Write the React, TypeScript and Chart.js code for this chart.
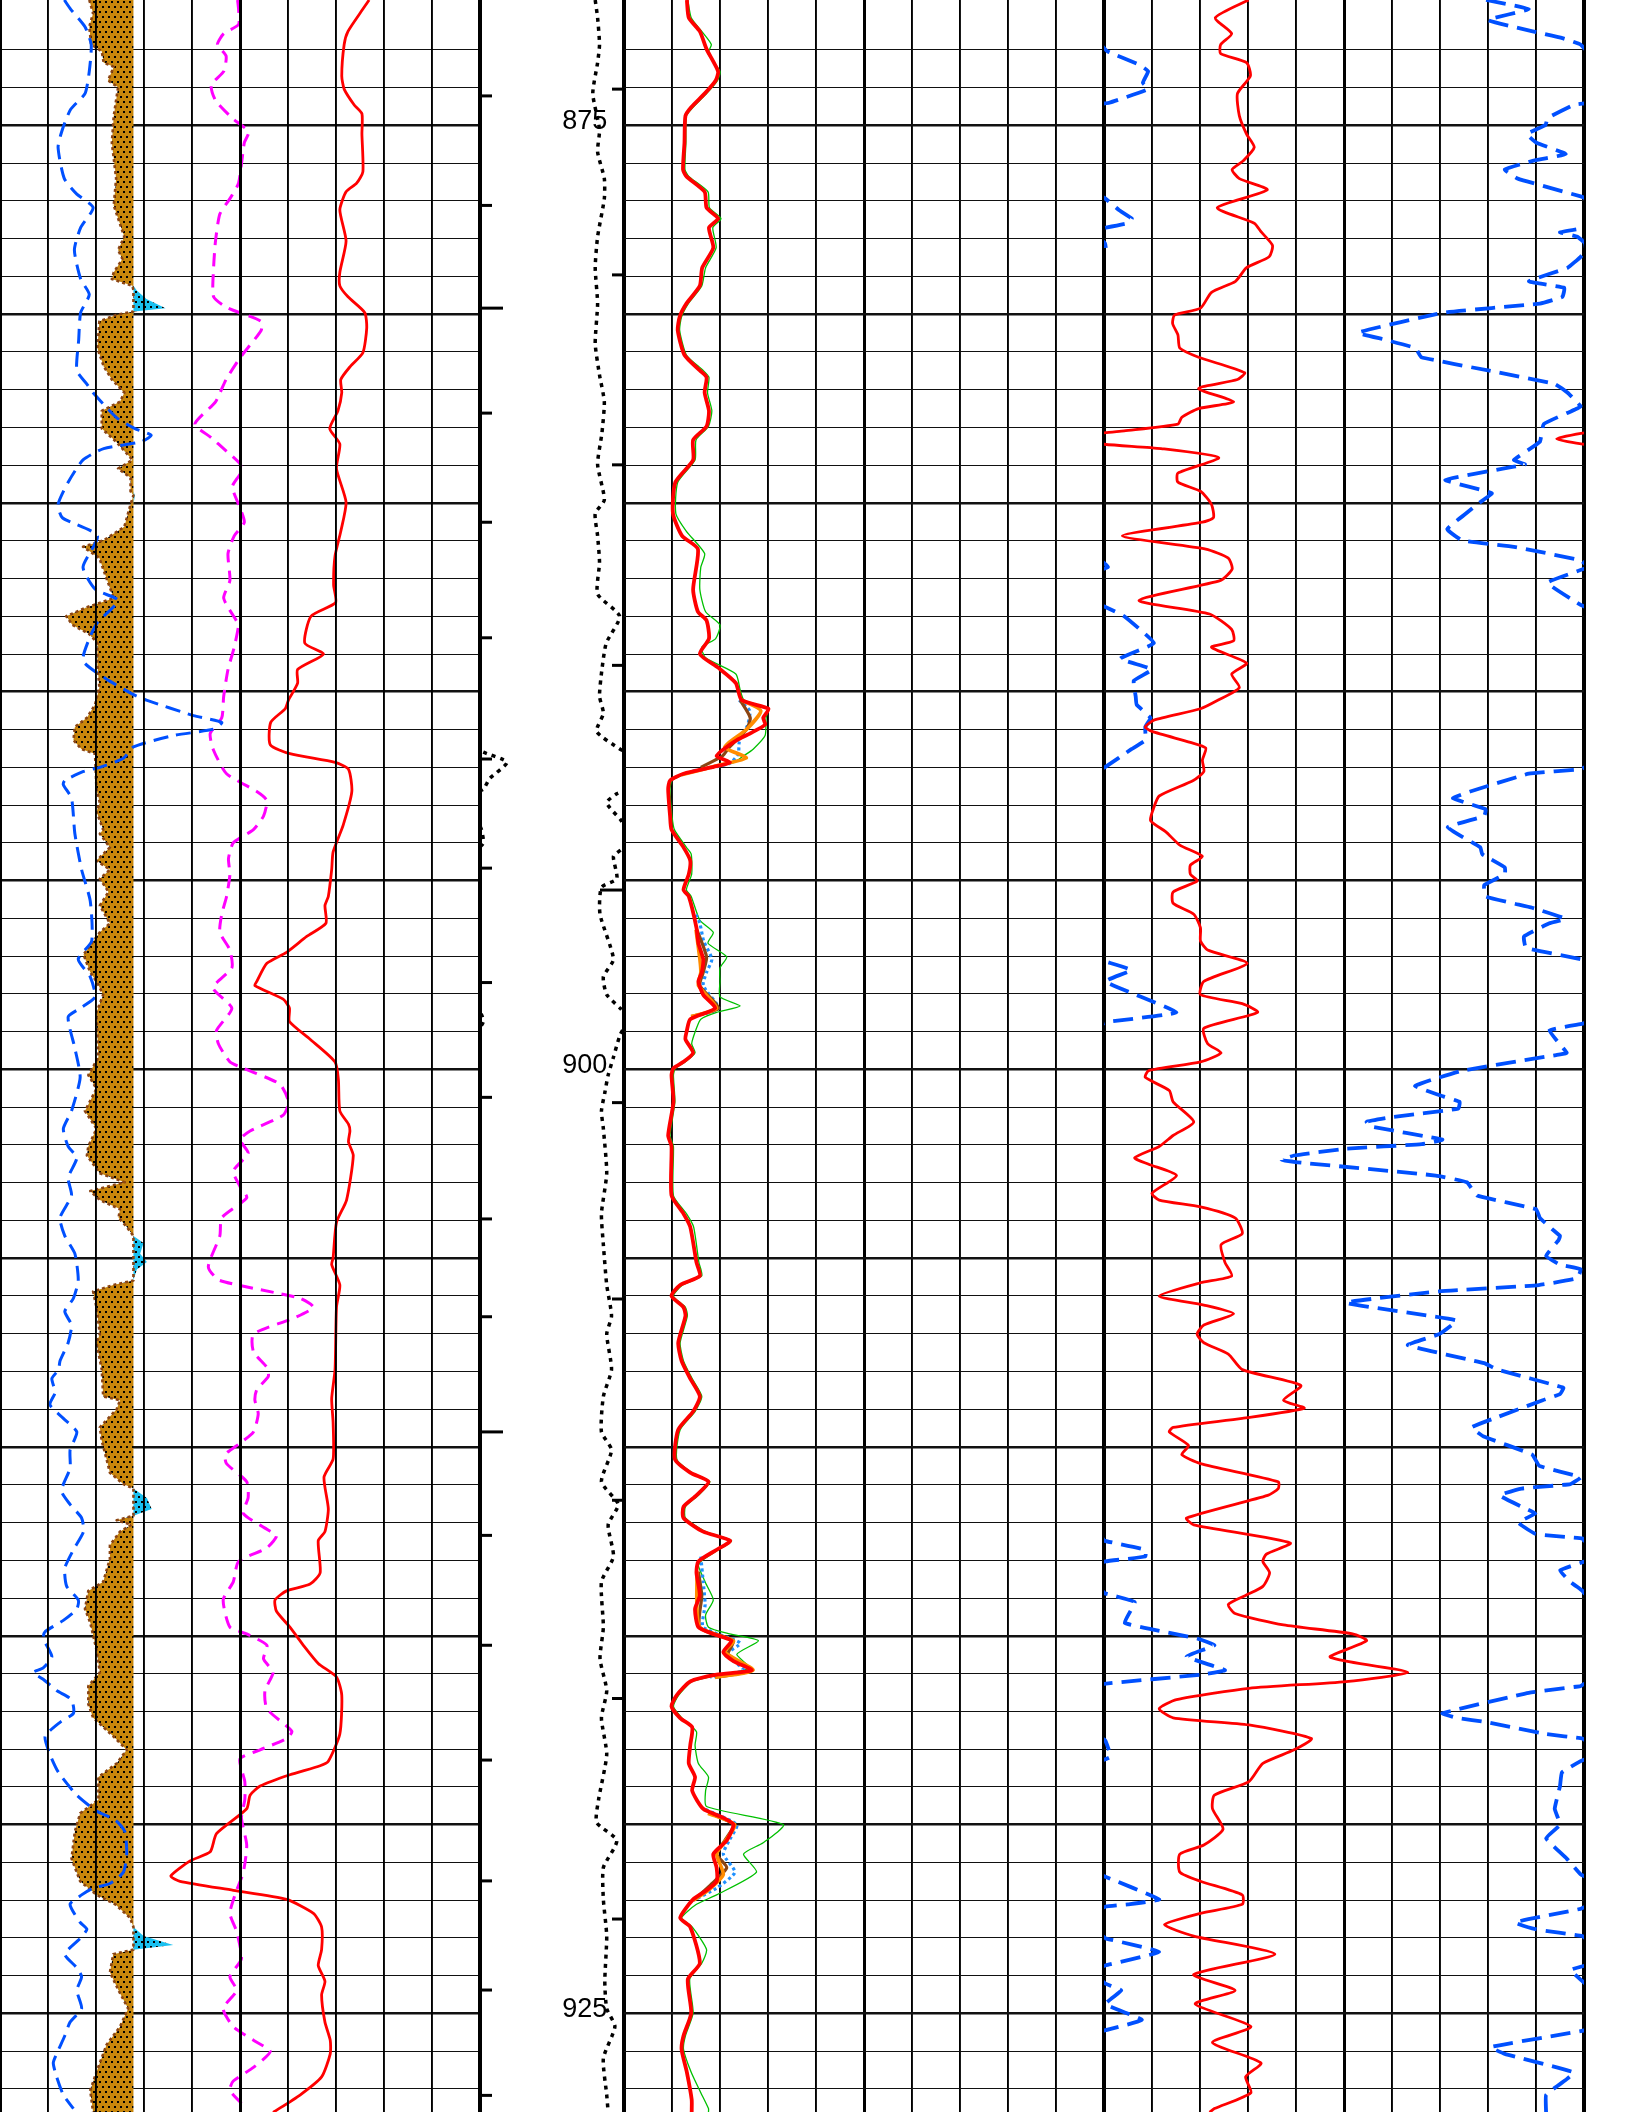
import React, { useEffect, useRef } from 'react';
import { Chart, registerables } from 'chart.js';

Chart.register(...registerables);

// ---------- depth axis ----------
const DEPTH_MIN = 871.68;
const DEPTH_MAX = 927.61;
const DEPTH_LABELS = [875, 900, 925];
const GR_BASELINE = 2.78;

// ---------- left track (10 divisions) ----------
const LT_RED: [number, number][] = [[871.68,7.69],[871.92,7.56],[872.51,7.25],[872.86,7.17],[873.69,7.12],[874.04,7.17],[874.46,7.38],[874.69,7.54],[875.23,7.54],[876.23,7.56],[876.53,7.43],[876.76,7.21],[877.24,7.08],[878.06,7.21],[878.89,7.08],[879.25,7.08],[879.54,7.25],[879.96,7.60],[880.37,7.64],[881.02,7.56],[881.38,7.30],[881.73,7.10],[882.08,7.12],[882.56,7.04],[883.03,6.87],[883.44,7.08],[884.09,7.01],[884.98,7.21],[885.75,7.10],[886.40,6.98],[887.17,6.95],[887.64,6.99],[888.00,6.48],[888.71,6.35],[889.00,6.74],[889.41,6.20],[889.77,6.20],[890.22,6.01],[890.45,5.94],[890.81,5.64],[891.40,5.63],[891.64,6.04],[891.87,6.98],[892.05,7.26],[892.64,7.33],[893.53,7.15],[894.24,6.94],[894.71,6.91],[895.42,6.84],[895.66,6.77],[896.13,6.79],[896.48,6.39],[896.90,5.97],[897.19,5.56],[897.67,5.35],[897.78,5.31],[898.14,5.90],[898.38,6.03],[898.73,6.03],[899.20,6.46],[899.80,6.98],[900.27,7.05],[901.10,7.08],[901.45,7.26],[901.63,7.29],[901.92,7.26],[902.28,7.36],[903.46,7.22],[904.05,7.01],[904.99,6.94],[905.17,6.91],[905.71,7.08],[906.30,7.01],[907.95,6.98],[908.72,6.91],[909.36,6.94],[910.32,6.94],[910.80,6.75],[911.64,6.84],[912.24,6.77],[912.48,6.63],[913.33,6.67],[913.63,6.46],[913.81,5.97],[914.05,5.73],[914.35,5.76],[914.77,6.04],[915.25,6.32],[915.73,6.63],[916.09,7.01],[916.57,7.12],[917.60,7.08],[918.32,6.84],[918.44,6.67],[918.68,6.04],[918.98,5.42],[919.22,5.21],[919.58,5.14],[920.24,4.51],[920.72,4.38],[920.96,3.96],[921.36,3.56],[921.50,3.75],[921.74,4.86],[921.98,5.97],[922.35,6.53],[922.71,6.70],[923.31,6.70],[923.73,6.63],[924.15,6.77],[924.51,6.70],[925.23,6.77],[925.71,6.88],[926.07,6.88],[926.68,6.70],[927.16,6.25],[927.62,5.69]];

const LT_MAGENTA: [number, number][] = [[871.68,4.95],[871.92,4.97],[872.33,4.97],[872.57,4.66],[872.86,4.53],[873.16,4.71],[873.57,4.66],[873.93,4.40],[874.34,4.49],[874.81,4.84],[875.17,5.18],[875.46,5.09],[876.53,4.97],[876.94,4.79],[877.35,4.58],[878.06,4.49],[878.77,4.45],[879.54,4.45],[879.84,4.75],[880.19,5.44],[880.43,5.44],[881.14,5.01],[881.73,4.71],[882.32,4.49],[882.91,4.06],[883.27,4.40],[883.62,4.71],[883.98,5.01],[884.21,5.01],[884.57,4.84],[885.04,4.97],[885.51,5.09],[885.87,4.88],[886.34,4.75],[887.05,4.79],[887.52,4.66],[888.11,4.92],[888.23,4.97],[888.82,4.88],[889.41,4.75],[890.12,4.66],[890.69,4.62],[891.10,4.38],[891.52,4.44],[892.17,4.72],[892.64,5.35],[892.88,5.56],[893.29,5.49],[893.65,5.28],[894.00,4.86],[894.42,4.76],[894.83,4.79],[895.42,4.72],[895.89,4.62],[896.37,4.58],[896.84,4.79],[897.31,4.83],[897.84,4.44],[898.38,4.83],[898.97,4.51],[899.32,4.55],[899.80,4.79],[899.97,5.07],[900.39,5.83],[900.86,6.01],[901.21,5.90],[901.63,5.21],[901.86,5.00],[902.22,5.17],[902.69,4.86],[903.10,5.00],[903.40,5.14],[903.93,4.62],[904.41,4.58],[905.23,4.34],[905.59,4.58],[906.06,6.25],[906.30,6.53],[906.59,6.11],[907.01,5.28],[907.48,5.28],[907.89,5.56],[908.13,5.59],[908.48,5.35],[908.76,5.31],[909.12,5.38],[909.60,5.28],[909.90,5.00],[910.20,4.69],[910.44,4.72],[910.92,5.14],[911.34,5.17],[911.76,5.07],[912.18,5.56],[912.36,5.76],[912.67,5.56],[913.03,4.97],[913.57,4.86],[914.05,4.65],[914.77,4.79],[914.95,5.14],[915.25,5.56],[915.61,5.49],[915.97,5.69],[916.45,5.52],[916.93,5.56],[917.53,6.08],[917.72,5.97],[918.02,5.42],[918.26,5.00],[918.86,5.10],[919.34,5.10],[919.82,5.03],[920.54,5.14],[921.26,5.07],[921.74,4.93],[922.35,4.79],[922.83,4.93],[923.55,5.03],[924.03,4.79],[924.39,4.93],[924.87,4.65],[925.35,4.86],[925.71,5.28],[926.01,5.63],[926.43,5.28],[926.79,4.86],[927.04,4.79],[927.52,5.14]];

const LT_BLUE: [number, number][] = [[871.68,1.34],[871.92,1.47],[872.39,1.77],[872.86,1.90],[873.57,1.86],[874.16,1.77],[874.58,1.47],[875.11,1.30],[875.58,1.21],[876.41,1.34],[876.82,1.60],[877.18,1.94],[877.71,1.68],[878.30,1.55],[879.07,1.68],[879.48,1.86],[879.96,1.68],[880.67,1.64],[881.49,1.60],[881.85,1.81],[882.08,1.94],[882.73,2.42],[883.03,2.81],[883.21,3.15],[883.38,2.94],[883.56,2.16],[883.86,1.73],[884.45,1.42],[885.04,1.21],[885.39,1.30],[885.87,2.03],[886.70,1.73],[887.29,1.99],[887.58,2.46],[888.17,2.03],[888.59,1.86],[889.18,1.73],[889.65,2.20],[890.06,2.76],[890.22,3.05],[890.63,4.03],[890.81,4.62],[890.99,4.44],[891.16,3.61],[891.46,2.78],[891.76,2.57],[892.00,2.08],[892.11,1.74],[892.35,1.35],[892.46,1.32],[892.82,1.49],[893.76,1.56],[894.71,1.70],[895.54,1.88],[896.60,1.91],[897.08,1.63],[897.55,1.88],[898.08,1.98],[898.38,1.67],[898.61,1.42],[899.44,1.56],[900.21,1.67],[901.10,1.49],[901.57,1.32],[902.04,1.42],[902.34,1.60],[902.87,1.42],[903.34,1.49],[903.93,1.25],[904.41,1.35],[904.88,1.56],[905.59,1.63],[906.06,1.53],[906.41,1.35],[906.77,1.49],[907.24,1.42],[907.72,1.25],[907.95,1.22],[908.19,1.08],[908.55,1.15],[908.88,1.04],[909.24,1.32],[909.60,1.60],[910.08,1.46],[910.56,1.46],[911.16,1.28],[911.52,1.46],[911.88,1.70],[912.24,1.74],[912.72,1.53],[913.21,1.35],[913.69,1.39],[914.05,1.63],[914.29,1.60],[914.59,1.32],[914.89,0.94],[915.07,0.90],[915.55,1.08],[915.85,0.90],[915.97,0.69],[916.15,0.90],[916.45,1.18],[916.69,1.49],[917.05,1.53],[917.29,1.25],[917.66,0.94],[918.14,1.04],[918.62,1.22],[919.22,1.60],[919.64,2.01],[919.88,2.40],[920.18,2.60],[920.78,2.64],[921.26,2.57],[921.56,2.29],[921.68,1.94],[921.86,1.70],[922.11,1.46],[922.59,1.67],[922.77,1.81],[923.01,1.67],[923.43,1.35],[923.79,1.60],[924.03,1.70],[924.39,1.60],[924.87,1.70],[925.23,1.46],[925.59,1.35],[926.07,1.18],[926.31,1.11],[926.68,1.18],[927.16,1.32],[927.52,1.53]];

const LT_GR: [number, number][] = [[871.68,1.86],[872.03,1.94],[872.39,1.86],[872.86,1.90],[873.04,2.12],[873.34,2.16],[873.45,2.37],[873.81,2.25],[873.99,2.46],[874.75,2.37],[875.46,2.33],[876.41,2.42],[877.12,2.37],[877.95,2.59],[878.30,2.46],[878.54,2.55],[878.89,2.37],[879.07,2.33],[879.25,2.76],[879.37,2.85],[879.60,3.05],[879.84,3.45],[879.93,2.80],[880.02,2.42],[880.19,2.07],[880.90,2.03],[881.38,2.16],[881.73,2.33],[882.08,2.59],[882.32,2.50],[882.56,2.12],[883.03,2.12],[883.38,2.42],[883.86,2.76],[884.09,2.46],[884.33,2.72],[884.69,2.72],[884.80,2.81],[885.04,2.72],[885.63,2.59],[885.99,2.16],[886.16,1.73],[886.46,2.07],[886.93,2.20],[887.52,2.37],[887.76,1.81],[888.00,1.38],[888.23,1.51],[888.47,1.86],[888.71,2.03],[889.30,2.03],[889.89,2.07],[890.34,1.98],[890.69,1.81],[890.93,1.56],[891.28,1.53],[891.52,1.70],[891.64,1.98],[892.58,2.01],[892.94,2.08],[893.17,2.01],[893.65,2.15],[893.76,2.08],[894.12,2.29],[894.47,2.01],[894.71,2.29],[894.95,2.08],[895.30,2.26],[895.66,2.08],[896.13,2.29],[896.37,2.08],[896.72,1.88],[896.96,1.74],[897.43,1.88],[897.67,2.01],[898.02,2.15],[898.49,2.01],[899.68,2.05],[900.15,1.84],[900.51,2.01],[901.10,1.77],[901.57,2.01],[902.04,1.84],[902.28,1.81],[902.75,2.08],[902.99,2.60],[903.22,1.88],[903.46,2.08],[903.70,2.50],[903.93,2.47],[904.17,2.64],[904.41,2.78],[904.60,2.99],[904.88,2.92],[905.10,3.06],[905.30,2.85],[905.59,2.78],[905.71,2.36],[905.88,1.94],[906.30,2.01],[907.01,2.08],[907.24,2.01],[907.95,2.12],[908.66,2.15],[908.76,2.50],[909.00,2.43],[909.48,2.08],[909.84,2.12],[910.32,2.22],[910.68,2.29],[910.98,2.57],[911.10,2.78],[911.35,3.06],[911.64,3.16],[911.82,2.78],[911.94,2.43],[912.06,2.74],[912.24,2.50],[912.60,2.29],[912.96,2.29],[913.57,2.15],[913.81,1.84],[914.29,1.77],[914.65,1.88],[915.37,2.01],[915.97,2.08],[916.33,1.84],[916.81,1.84],[917.17,1.94],[917.66,2.36],[918.02,2.64],[918.38,2.43],[918.74,2.05],[919.34,2.05],[919.70,1.67],[920.18,1.56],[920.90,1.49],[921.50,1.67],[921.86,2.01],[922.11,2.40],[922.47,2.71],[922.71,2.78],[922.95,2.99],[923.19,3.61],[923.31,2.78],[923.43,2.36],[923.91,2.29],[924.39,2.47],[924.87,2.67],[925.35,2.50],[925.83,2.22],[926.55,2.01],[927.04,1.88],[927.62,1.94]];

// ---------- depth track (3 divisions, wraps) ----------
const DEPTH_CURVE: [number, number][] = [[871.68,2.40],[872.15,2.45],[872.86,2.49],[873.34,2.45],[874.16,2.35],[875.11,2.49],[875.70,2.45],[876.41,2.59],[876.94,2.59],[877.95,2.45],[878.77,2.40],[879.72,2.45],[880.78,2.40],[881.61,2.49],[882.32,2.59],[883.15,2.54],[883.98,2.45],[884.92,2.59],[885.28,2.40],[885.87,2.45],[886.58,2.49],[887.41,2.45],[888.00,2.91],[888.71,2.63],[889.41,2.54],[890.12,2.49],[890.57,2.57],[891.05,2.43],[891.52,2.92],[891.60,3.07],[891.87,3.56],[892.30,3.20],[892.58,3.07],[892.70,2.85],[892.94,2.64],[893.41,2.94],[893.65,3.03],[894.00,3.07],[894.18,2.94],[894.36,2.78],[894.95,2.85],[895.18,2.53],[895.89,2.50],[897.08,2.78],[897.55,2.57],[898.02,2.64],[898.38,2.92],[898.55,3.03],[898.73,3.07],[899.08,2.92],[899.68,2.78],[900.15,2.67],[900.62,2.60],[901.10,2.53],[901.57,2.57],[902.75,2.64],[903.82,2.53],[904.64,2.57],[905.71,2.64],[906.53,2.74],[907.01,2.64],[907.95,2.74],[908.66,2.57],[909.60,2.53],[910.08,2.74],[910.92,2.53],[911.52,2.88],[912.06,2.67],[912.90,2.78],[913.57,2.53],[914.77,2.57],[915.61,2.50],[916.45,2.64],[917.18,2.53],[918.14,2.64],[919.34,2.47],[919.94,2.43],[920.42,2.85],[921.14,2.57],[921.98,2.57],[922.95,2.64],[924.15,2.60],[924.87,2.64],[925.35,2.81],[926.19,2.57],[927.16,2.64],[927.62,2.67]];
const LEFT_TICKS = [874.22, 877.12, 882.62, 885.51, 888.57, 891.78, 894.67, 897.70, 900.74, 903.96, 906.55, 912.34, 915.25, 918.29, 921.49, 924.38, 927.17];
const LEFT_LONG_TICKS = [879.84, 909.60];
const RIGHT_TICKS = [874.04, 878.96, 883.99, 889.30, 900.88, 906.08, 911.41, 916.66, 922.50];
const RIGHT_LONG_TICKS = [895.25];

// ---------- track 2 (10 divisions) ----------
const T2_RED: [number, number][] = [[871.68,1.31],[872.15,1.35],[872.51,1.58],[872.98,1.72],[873.57,1.96],[873.81,1.91],[874.16,1.68],[874.52,1.40],[874.75,1.28],[875.46,1.26],[876.17,1.23],[876.35,1.30],[876.76,1.68],[877.18,1.72],[877.47,1.96],[877.71,1.77],[878.24,1.86],[878.77,1.63],[879.25,1.58],[879.72,1.30],[880.07,1.16],[880.43,1.12],[881.08,1.26],[881.49,1.58],[881.67,1.72],[882.08,1.68],[882.56,1.77],[882.97,1.72],[883.33,1.44],[883.86,1.44],[884.45,1.07],[885.28,1.02],[885.87,1.21],[886.22,1.54],[887.29,1.44],[887.88,1.54],[888.11,1.72],[888.59,1.77],[889.00,1.58],[889.36,1.96],[889.77,2.33],[890.22,2.45],[890.45,3.01],[890.69,2.90],[890.87,2.94],[891.10,2.63],[891.28,2.35],[891.46,2.14],[891.70,1.93],[891.87,2.21],[891.97,1.93],[892.17,1.24],[892.35,0.96],[892.58,0.92],[893.29,0.96],[893.65,0.99],[894.12,1.24],[894.47,1.38],[894.83,1.35],[895.24,1.24],[895.42,1.35],[896.25,1.51],[896.66,1.55],[897.08,1.65],[897.43,1.62],[897.67,1.55],[898.02,1.65],[898.38,1.90],[898.67,1.38],[898.97,1.31],[899.20,1.28],[899.56,1.44],[899.80,1.24],[899.97,1.03],[900.15,0.99],[900.86,1.03],[901.75,0.92],[902.04,0.99],[903.34,0.99],[903.82,1.24],[904.17,1.38],[905.11,1.51],[905.47,1.58],[905.71,1.17],[906.00,0.99],[906.30,1.24],[906.53,1.28],[907.24,1.13],[907.72,1.20],[908.19,1.38],[908.66,1.58],[909.06,1.44],[909.54,1.13],[910.32,1.06],[910.68,1.38],[910.92,1.76],[911.28,1.51],[911.58,1.24],[911.88,1.24],[912.24,1.65],[912.48,2.21],[912.72,1.93],[913.03,1.55],[913.33,1.51],[913.93,1.58],[914.29,1.48],[914.77,1.55],[914.95,1.86],[915.13,2.24],[915.43,2.07],[915.67,2.28],[915.91,2.66],[916.03,1.93],[916.21,1.38],[916.57,1.10],[916.87,0.99],[917.18,1.17],[917.42,1.42],[917.90,1.38],[918.38,1.35],[918.74,1.48],[919.10,1.42],[919.58,1.65],[919.82,2.07],[920.00,2.28],[920.42,2.14],[920.78,1.86],[921.14,1.93],[921.50,1.93],[921.74,1.72],[921.98,1.44],[922.47,1.17],[922.71,1.38],[923.67,1.58],[924.09,1.33],[924.99,1.40],[925.59,1.24],[925.95,1.20],[926.56,1.31],[927.28,1.41],[927.62,1.41]];

const T2_GREEN: [number, number][] = [[871.68,1.33],[872.15,1.40],[872.51,1.62],[872.86,1.82],[873.10,1.75],[873.57,2.00],[873.81,1.95],[874.16,1.72],[874.52,1.44],[874.75,1.30],[875.46,1.29],[876.17,1.27],[876.35,1.35],[876.76,1.75],[877.18,1.78],[877.47,2.02],[877.71,1.85],[878.24,1.92],[878.77,1.70],[879.25,1.62],[879.72,1.34],[880.07,1.20],[880.43,1.16],[881.08,1.30],[881.49,1.65],[881.67,1.77],[882.08,1.74],[882.56,1.83],[882.97,1.76],[883.33,1.50],[883.86,1.48],[884.45,1.12],[885.28,1.08],[885.75,1.30],[886.34,1.68],[886.70,1.60],[887.29,1.58],[887.88,1.70],[888.23,2.00],[888.59,1.91],[888.82,1.62],[889.10,1.70],[889.53,2.33],[889.95,2.42],[890.22,2.50],[890.45,3.00],[890.69,2.96],[891.16,2.94],[891.52,2.69],[891.70,2.49],[891.87,2.30],[891.97,2.00],[892.17,1.30],[892.35,1.00],[892.58,0.96],[893.29,1.00],[893.65,1.05],[894.12,1.30],[894.30,1.40],[894.83,1.41],[895.24,1.30],[895.42,1.40],[896.05,1.58],[896.37,1.86],[896.66,1.75],[897.02,2.14],[897.31,2.00],[897.67,2.00],[898.08,2.00],[898.32,2.42],[898.49,1.93],[898.67,1.60],[898.91,1.51],[899.32,1.41],[899.56,1.48],[899.80,1.28],[899.97,1.07],[900.15,1.03],[900.86,1.06],[901.75,0.96],[902.04,1.03],[903.34,1.03],[903.82,1.30],[904.17,1.45],[905.11,1.56],[905.47,1.62],[905.71,1.22],[906.00,1.03],[906.30,1.28],[906.53,1.32],[907.24,1.17],[907.72,1.24],[908.19,1.42],[908.66,1.62],[909.06,1.48],[909.54,1.17],[910.32,1.10],[910.68,1.42],[910.92,1.79],[911.28,1.55],[911.58,1.28],[911.88,1.28],[912.24,1.70],[912.48,2.24],[912.72,1.97],[913.03,1.60],[913.15,1.55],[913.60,1.70],[914.05,1.86],[914.45,1.70],[914.77,1.76],[914.95,2.20],[915.13,2.80],[915.49,2.35],[915.85,2.62],[916.03,2.00],[916.21,1.42],[916.57,1.14],[916.87,1.03],[917.18,1.21],[917.54,1.51],[917.90,1.48],[918.38,1.55],[918.74,1.76],[919.10,1.70],[919.52,1.72],[920.00,3.32],[920.48,2.90],[920.78,2.49],[921.26,2.76],[921.86,1.93],[922.11,1.51],[922.47,1.20],[922.71,1.42],[923.31,1.72],[923.67,1.62],[924.09,1.37],[924.99,1.44],[925.59,1.28],[925.95,1.24],[926.56,1.40],[927.10,1.60],[927.52,1.76],[927.62,1.76]];

const T2_BLUE: [number, number | null][] = [[890.22,2.40],[890.50,2.62],[890.87,2.58],[891.10,2.48],[891.34,2.40],[891.64,2.38],[891.90,2.20],[892.10,1.40],[892.2,null],[895.90,1.50],[896.13,1.58],[896.60,1.66],[897.08,1.83],[897.43,1.72],[897.78,1.65],[898.38,1.97],[898.60,1.44],[898.7,null],[912.90,1.60],[913.57,1.65],[914.17,1.69],[914.77,1.65],[915.19,2.42],[915.49,2.14],[915.91,2.49],[916.10,1.80],[916.2,null],[919.60,1.70],[920.00,2.35],[920.40,2.20],[920.78,2.07],[921.26,2.31],[921.68,1.93],[922.00,1.45]];
const T2_BROWN: [number, number | null][] = [[890.22,2.42],[890.69,2.63],[891.00,2.55],[891.46,2.20],[891.70,2.05],[892.00,1.60],[892.1,null],[896.30,1.52],[897.02,1.72],[897.43,1.65],[897.78,1.58],[898.38,1.97],[898.60,1.40],[898.7,null],[913.30,1.55],[913.93,1.62],[914.77,1.58],[915.13,2.28],[915.49,2.17],[915.91,2.66],[916.10,1.90],[916.2,null],[919.70,1.80],[920.00,2.28],[920.42,2.10],[920.78,1.93],[921.14,2.14],[921.60,1.80],[922.00,1.45]];
const T2_ORANGE: [number, number | null][] = [[890.22,2.45],[890.50,2.85],[891.00,2.55],[891.46,2.10],[891.75,2.55],[891.95,1.95],[892.20,1.20],[892.3,null],[896.30,1.50],[897.08,1.58],[897.43,1.60],[897.78,1.55],[898.38,1.93],[898.60,1.40],[898.7,null],[913.30,1.52],[914.77,1.57],[915.13,2.28],[915.43,2.10],[915.91,2.69],[916.10,1.90],[916.2,null],[919.70,1.75],[920.00,2.31],[920.42,2.12],[920.78,1.93],[921.32,2.07],[921.70,1.79],[922.00,1.45]];

// ---------- track 3 (10 divisions, both curves wrap) ----------
const T3_RED: [number, number][] = [[871.68,3.01],[872.15,2.32],[872.57,2.66],[872.86,2.43],[873.10,2.43],[873.34,2.97],[873.69,3.05],[874.16,2.78],[874.75,2.82],[875.23,2.97],[875.58,3.13],[875.94,2.90],[876.17,2.67],[876.41,2.82],[876.71,3.40],[877.18,2.36],[877.59,3.13],[877.83,3.28],[878.18,3.51],[878.48,3.44],[878.77,2.97],[879.13,2.74],[879.42,2.24],[879.84,2.01],[880.02,1.47],[880.25,1.43],[880.55,1.54],[880.90,1.58],[881.14,1.97],[881.55,2.93],[881.73,2.78],[881.97,1.97],[882.32,2.70],[882.50,1.97],[882.73,1.62],[882.91,1.54],[883.09,0.42],[883.15,-0.03],[883.30,-0.57],[883.44,-0.03],[883.56,1.19],[883.80,2.39],[884.21,1.54],[884.45,1.54],[884.69,2.01],[885.04,2.24],[885.39,2.28],[885.51,2.05],[885.87,0.38],[886.22,2.12],[886.46,2.59],[886.75,2.67],[887.05,2.43],[887.58,0.73],[887.94,2.20],[888.35,2.66],[888.65,2.70],[888.82,2.24],[889.24,2.97],[889.53,2.66],[889.89,2.82],[890.22,2.38],[890.45,2.01],[890.75,1.04],[890.93,0.86],[891.05,1.00],[891.34,1.80],[891.49,2.12],[891.81,2.05],[892.11,2.08],[892.35,1.86],[892.76,1.15],[893.06,1.04],[893.41,0.97],[893.71,1.29],[894.06,1.58],[894.36,2.05],[894.59,1.80],[894.83,1.80],[895.01,1.94],[895.30,1.44],[895.60,1.44],[895.89,1.87],[896.25,2.01],[896.60,2.01],[896.84,2.16],[897.19,2.98],[897.67,2.08],[898.02,2.01],[898.26,2.88],[898.49,3.20],[898.91,2.08],[899.32,2.16],[899.56,2.44],[899.80,2.01],[900.03,0.93],[900.21,0.86],[900.56,1.36],[900.86,1.44],[901.39,1.87],[901.75,1.44],[902.04,1.15],[902.34,0.64],[902.51,0.93],[902.81,1.51],[903.28,1.00],[903.46,1.15],[903.64,2.01],[903.93,2.73],[904.35,2.88],[904.64,2.44],[905.11,2.52],[905.47,2.66],[905.65,2.01],[906.00,1.15],[906.24,2.08],[906.47,2.70],[906.77,2.08],[907.01,1.94],[907.24,2.08],[907.54,2.59],[907.95,2.88],[908.37,4.10],[908.76,3.74],[908.97,4.17],[909.24,2.88],[909.48,1.44],[909.60,1.36],[909.96,1.76],[910.20,1.62],[910.44,2.01],[910.92,3.63],[911.10,3.63],[911.28,3.41],[911.88,1.72],[912.06,1.87],[912.54,3.88],[912.84,3.38],[913.03,3.31],[913.33,3.45],[913.69,3.31],[913.93,2.95],[914.17,2.59],[914.41,2.73],[914.71,3.74],[914.95,5.18],[915.13,5.47],[915.55,4.71],[915.67,5.04],[915.97,6.33],[916.21,5.04],[916.39,3.02],[916.69,1.51],[916.93,1.15],[917.17,1.44],[917.36,3.02],[917.72,4.32],[918.02,3.96],[918.38,3.31],[918.86,3.02],[919.22,2.30],[919.58,2.26],[920.12,2.48],[920.54,2.08],[920.78,1.58],[921.26,1.58],[921.50,2.01],[921.86,2.88],[922.11,2.88],[922.35,2.01],[922.65,1.26],[922.95,1.87],[923.43,3.56],[923.97,1.87],[924.39,2.73],[924.75,1.90],[925.35,3.06],[925.77,2.26],[926.31,3.27],[926.68,2.95],[927.10,3.06],[927.52,2.30],[927.62,2.20]];

const T3_BLUE: [number, number][] = [[871.68,7.96],[871.92,8.85],[872.21,8.00],[872.51,8.93],[872.69,9.55],[872.86,9.93],[873.04,10.07],[873.39,10.73],[873.57,10.92],[873.87,10.81],[874.04,10.92],[874.40,10.11],[874.46,9.78],[874.81,9.24],[874.99,9.20],[875.23,8.81],[875.46,9.01],[875.76,9.62],[875.94,8.93],[876.17,8.35],[876.41,8.62],[876.88,9.93],[876.94,10.03],[877.24,10.31],[877.47,10.58],[877.59,10.50],[877.71,10.04],[877.83,9.50],[877.95,9.86],[878.12,10.02],[878.30,10.04],[878.48,9.93],[878.77,9.66],[879.13,8.85],[879.30,9.59],[879.54,9.55],[879.72,9.08],[879.96,7.07],[880.49,5.29],[880.67,5.84],[880.90,6.49],[881.14,6.61],[881.49,8.00],[881.85,9.39],[882.08,9.66],[882.44,9.93],[882.50,9.86],[882.91,9.16],[883.38,9.08],[883.86,8.54],[883.98,8.77],[884.09,8.31],[884.39,7.11],[884.74,8.08],[885.04,7.77],[885.28,7.54],[885.69,7.15],[885.99,7.46],[886.16,8.54],[886.52,9.93],[886.70,10.08],[887.11,9.24],[887.70,9.93],[887.76,10.04],[888.00,10.42],[888.71,11.04],[889.12,10.34],[889.41,11.00],[889.71,10.62],[890.12,10.66],[890.34,10.68],[890.69,10.97],[890.93,10.86],[891.28,10.86],[891.52,10.57],[891.99,10.03],[892.05,9.93],[892.17,8.85],[892.64,7.63],[892.82,7.27],[893.11,7.95],[893.29,7.92],[893.59,7.16],[894.12,7.84],[894.30,7.88],[894.65,8.35],[894.83,8.35],[895.12,7.92],[895.42,7.95],[895.72,8.92],[896.01,9.61],[896.13,9.28],[896.48,8.75],[896.78,8.79],[897.08,9.93],[897.13,10.00],[897.37,10.57],[897.67,10.03],[898.49,11.51],[898.73,10.14],[898.79,9.97],[898.97,9.28],[899.56,9.64],[899.62,9.42],[900.03,7.48],[900.27,6.84],[900.44,6.48],[900.68,6.98],[900.86,7.41],[901.04,7.38],[901.27,5.97],[901.39,5.47],[901.51,5.55],[901.86,7.05],[901.98,6.62],[902.10,5.04],[902.28,3.96],[902.40,3.70],[902.46,4.03],[902.81,6.91],[902.99,7.56],[903.34,7.77],[903.70,9.00],[903.93,9.08],[904.17,9.28],[904.41,9.50],[904.52,9.47],[904.94,9.21],[905.17,9.50],[905.29,9.93],[905.53,9.86],[905.71,9.06],[905.88,6.98],[906.18,5.04],[906.65,7.34],[907.01,6.98],[907.30,6.33],[907.78,7.92],[907.95,8.20],[908.43,9.57],[908.60,9.50],[908.76,9.14],[909.24,8.13],[909.48,7.66],[909.72,7.91],[910.20,8.92],[910.50,9.07],[910.80,9.93],[910.98,9.72],[911.10,8.70],[911.28,8.24],[911.58,8.70],[911.76,8.99],[912.00,8.63],[912.30,8.99],[912.42,9.97],[912.48,10.00],[912.72,10.86],[912.90,10.86],[913.03,10.03],[913.27,9.50],[913.57,9.72],[913.81,9.97],[913.87,10.00],[914.11,10.64],[914.65,10.43],[914.83,11.00],[915.07,11.94],[915.25,12.30],[915.55,11.72],[915.91,12.52],[916.03,12.00],[916.27,10.00],[916.33,9.93],[916.51,8.85],[917.05,7.05],[917.17,7.34],[917.29,7.99],[917.60,9.21],[917.72,9.97],[917.78,10.03],[918.20,10.14],[918.32,9.93],[918.62,9.54],[918.98,9.50],[919.58,9.39],[920.00,9.50],[920.36,9.21],[920.90,9.64],[921.32,9.93],[921.38,10.03],[921.98,11.15],[922.11,10.50],[922.17,10.03],[922.23,9.93],[922.59,8.56],[922.77,8.99],[922.95,9.97],[923.01,10.03],[923.37,11.15],[923.73,10.03],[923.85,9.72],[924.15,9.97],[924.21,10.03],[924.39,10.36],[924.75,10.03],[925.17,10.79],[925.41,10.14],[925.47,9.93],[925.89,8.06],[926.07,8.35],[926.56,9.79],[926.74,9.64],[927.16,9.21],[927.62,9.21]];

// ---------- helpers ----------
type Pt = { x: number | null; y: number };
const toPts = (arr: [number, number | null][], shift = 0): Pt[] =>
  arr.map(([d, v]) => ({ x: v === null ? null : v + shift, y: d }));

const TRANSPARENT = 'rgba(0,0,0,0)';

function makePattern(bg: string): CanvasPattern | string {
  const c = document.createElement('canvas');
  c.width = 6;
  c.height = 10;
  const g = c.getContext('2d');
  if (!g) return bg;
  g.fillStyle = bg;
  g.fillRect(0, 0, 6, 10);
  g.fillStyle = '#000';
  g.fillRect(1, 1, 2, 2);
  g.fillRect(4, 6, 2, 2);
  return g.createPattern(c, 'repeat') || bg;
}

function yScale(show: boolean) {
  return {
    type: 'linear',
    reverse: true,
    min: DEPTH_MIN,
    max: DEPTH_MAX,
    display: show,
    ticks: { display: false, stepSize: 1, autoSkip: false },
    border: { display: false },
    grid: {
      display: show,
      drawTicks: false,
      z: -1,
      color: (c: any) => (c.tick && Number.isInteger(c.tick.value) ? '#111' : TRANSPARENT),
      lineWidth: (c: any) => (c.tick && c.tick.value % 5 === 0 ? 2.6 : 1),
    },
  };
}

function xScale(max: number, step: number, z: number) {
  return {
    type: 'linear',
    min: 0,
    max,
    display: true,
    ticks: { display: false, stepSize: step, autoSkip: false },
    border: { display: false },
    grid: {
      drawTicks: false,
      z,
      color: '#000',
      lineWidth: (c: any) => {
        const v = c.tick ? c.tick.value : -1;
        if (v === 0 || v === max) return 4;
        if (v === max / 2) return 3;
        return 1.9;
      },
    },
  };
}

function baseOptions(xs: any, ys: any) {
  return {
    indexAxis: 'y',
    animation: false,
    responsive: false,
    maintainAspectRatio: false,
    devicePixelRatio: 1,
    events: [],
    layout: { padding: { left: 4, right: 4, top: 0, bottom: 0 }, autoPadding: false },
    plugins: { legend: { display: false }, tooltip: { enabled: false } },
    elements: { point: { radius: 0 }, line: { tension: 0 } },
    scales: { x: xs, y: ys },
  };
}

const line = (data: Pt[], color: string, width: number, dash: number[] = [], extra: any = {}) => ({
  data,
  borderColor: color,
  borderWidth: width,
  borderDash: dash,
  pointRadius: 0,
  fill: false,
  spanGaps: false,
  tension: 0.2,
  borderJoinStyle: 'round',
  ...extra,
});

const tickSet = (depths: number[], xPos: number, half: number) => ({
  data: depths.map((d) => ({ x: xPos, y: d })),
  showLine: false,
  pointStyle: 'line',
  pointRadius: half,
  pointBorderWidth: 3,
  pointBorderColor: '#000',
  pointBackgroundColor: '#000',
  borderColor: '#000',
});

const LABEL_X = 2.65;

const depthLabelPlugin = {
  id: 'depthLabels',
  beforeDatasetsDraw(chart: any) {
    const { ctx, scales } = chart;
    ctx.save();
    ctx.font = '27px "Liberation Sans", Arial, sans-serif';
    ctx.fillStyle = '#000';
    ctx.textAlign = 'right';
    ctx.textBaseline = 'alphabetic';
    DEPTH_LABELS.forEach((v) => {
      ctx.fillText(String(v), scales.x.getPixelForValue(LABEL_X), scales.y.getPixelForValue(v) + 4);
    });
    ctx.restore();
  },
};

export default function App() {
  const leftRef = useRef<HTMLCanvasElement>(null);
  const depthRef = useRef<HTMLCanvasElement>(null);
  const t2Ref = useRef<HTMLCanvasElement>(null);
  const t3Ref = useRef<HTMLCanvasElement>(null);

  useEffect(() => {
    document.body.style.margin = '0';
    const brownPattern = makePattern('#C8860B');
    const cyanPattern = makePattern('#19C0F0');

    const grBrown = LT_GR.map(([d, v]) => [d, Math.min(v, GR_BASELINE)] as [number, number]);
    const grCyan = LT_GR.map(([d, v]) => [d, Math.max(v, GR_BASELINE)] as [number, number]);

    const charts: Chart[] = [];

    charts.push(
      new Chart(leftRef.current as HTMLCanvasElement, {
        type: 'line',
        data: {
          datasets: [
            line(toPts(LT_BLUE), '#0050FF', 3, [15, 8]),
            line(toPts(LT_MAGENTA), '#FF00FF', 3, [13, 8]),
            line(toPts(LT_RED), '#FF0000', 2.8),
            line(toPts(grBrown), '#8B4513', 2.6, [3, 3], {
              tension: 0,
              fill: { value: GR_BASELINE },
              backgroundColor: brownPattern,
            }),
            line(toPts(grCyan), TRANSPARENT, 0, [], {
              tension: 0,
              fill: { value: GR_BASELINE },
              backgroundColor: cyanPattern,
            }),
          ],
        },
        options: baseOptions(xScale(10, 1, 1), yScale(true)) as any,
      } as any)
    );

    charts.push(
      new Chart(depthRef.current as HTMLCanvasElement, {
        type: 'line',
        data: {
          datasets: [
            line(toPts(DEPTH_CURVE), '#000', 3.5, [4, 5]),
            line(toPts(DEPTH_CURVE, -3), '#000', 3.5, [4, 5]),
            tickSet(LEFT_TICKS, 0.125, 6),
            tickSet(LEFT_LONG_TICKS, 0.24, 11.5),
            tickSet(RIGHT_TICKS, 2.875, 6),
            tickSet(RIGHT_LONG_TICKS, 2.75, 12),
          ],
        },
        options: baseOptions(xScale(3, 3, -1), yScale(false)) as any,
        plugins: [depthLabelPlugin],
      } as any)
    );

    charts.push(
      new Chart(t2Ref.current as HTMLCanvasElement, {
        type: 'line',
        data: {
          datasets: [
            line(toPts(T2_RED), '#FF0000', 3.8),
            line(toPts(T2_ORANGE), '#FF8C00', 3.6),
            line(toPts(T2_BROWN), '#8B4513', 3.2),
            line(toPts(T2_BLUE), '#1E90FF', 3.2, [3, 3]),
            line(toPts(T2_GREEN), '#00C000', 1.3),
          ],
        },
        options: baseOptions(xScale(10, 1, -1), yScale(true)) as any,
      } as any)
    );

    charts.push(
      new Chart(t3Ref.current as HTMLCanvasElement, {
        type: 'line',
        data: {
          datasets: [
            line(toPts(T3_RED), '#FF0000', 2.8),
            line(toPts(T3_RED, 10), '#FF0000', 2.8),
            line(toPts(T3_BLUE), '#0050FF', 3.8, [20, 9], { tension: 0.1 }),
            line(toPts(T3_BLUE, -10), '#0050FF', 3.8, [20, 9], { tension: 0.1 }),
          ],
        },
        options: baseOptions(xScale(10, 1, -1), yScale(true)) as any,
      } as any)
    );

    return () => charts.forEach((c) => c.destroy());
  }, []);

  const cv = (left: number, width: number): React.CSSProperties => ({
    position: 'absolute',
    left,
    top: 0,
    width,
    height: 2112,
  });

  return (
    <div style={{ position: 'absolute', left: 0, top: 0, width: 1632, height: 2112, background: '#fff', overflow: 'hidden' }}>
      <canvas ref={leftRef} width={488} height={2112} style={cv(-4, 488)} />
      <canvas ref={depthRef} width={152} height={2112} style={cv(476, 152)} />
      <canvas ref={t2Ref} width={488} height={2112} style={cv(620, 488)} />
      <canvas ref={t3Ref} width={488} height={2112} style={cv(1100, 488)} />
    </div>
  );
}
